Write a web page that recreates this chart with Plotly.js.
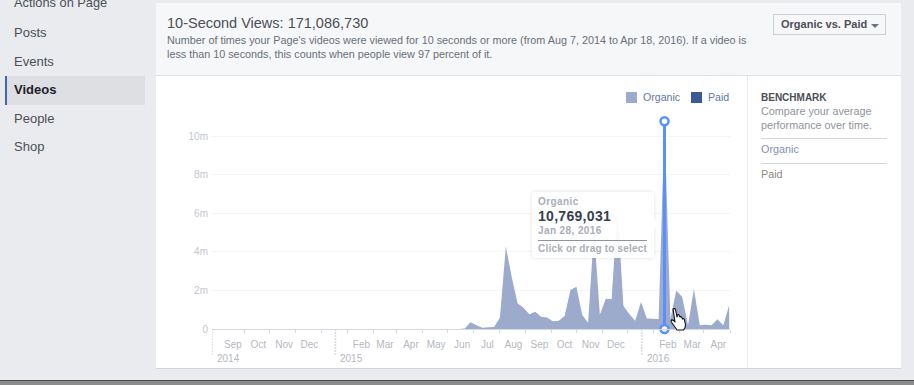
<!DOCTYPE html>
<html><head><meta charset="utf-8">
<script src="https://cdn.plot.ly/plotly-3.0.0.min.js"></script>
<style>
html,body{margin:0;padding:0;width:914px;height:385px;overflow:hidden;background:#e9ebee;font-family:"Liberation Sans",Arial,sans-serif}
.a{position:absolute;white-space:nowrap}
</style></head><body>
<div class="a" style="left:14px;top:-5px;font-size:12.8px;color:#4b4f56">Actions on Page</div>
<div class="a" style="left:14px;top:25px;font-size:13px;color:#4b4f56">Posts</div>
<div class="a" style="left:14px;top:54px;font-size:13px;color:#4b4f56">Events</div>
<div class="a" style="left:5px;top:76px;width:138px;height:29px;background:#dddfe2;border-left:2px solid #4267b2"></div>
<div class="a" style="left:14px;top:82px;font-size:13px;font-weight:bold;color:#1d2129">Videos</div>
<div class="a" style="left:14px;top:111px;font-size:13px;color:#4b4f56">People</div>
<div class="a" style="left:14px;top:139px;font-size:13px;color:#4b4f56">Shop</div>

<div class="a" style="left:156px;top:3px;width:745px;height:365px;background:#fff;border-bottom:1px solid #d3d6db"></div>
<div class="a" style="left:156px;top:3px;width:745px;height:72px;background:#f6f7f9;border-bottom:1px solid #dddfe2"></div>
<div class="a" style="left:167px;top:15px;font-size:14.5px;color:#4b4f56">10-Second Views: 171,086,730</div>
<div class="a" style="left:167px;top:33px;font-size:10.8px;line-height:14px;color:#6a6f78">Number of times your Page's videos were viewed for 10 seconds or more (from Aug 7, 2014 to Apr 18, 2016). If a video is<br>less than 10 seconds, this counts when people view 97 percent of it.</div>
<div class="a" style="left:773px;top:14px;width:111px;height:19px;background:#f6f7f9;border:1px solid #ccd0d5"></div>
<div class="a" style="left:781px;top:18px;font-size:11px;font-weight:bold;color:#4b4f56">Organic vs. Paid</div>
<div class="a" style="left:871px;top:24px;width:0;height:0;border-left:4px solid transparent;border-right:4px solid transparent;border-top:4px solid #6a7180"></div>
<div class="a" style="left:747px;top:76px;width:1px;height:292px;background:#e9ebee"></div>

<div id="chart" class="a" style="left:156px;top:76px;width:591px;height:292px"></div>

<div class="a" style="left:626px;top:92px;width:11px;height:11px;background:#9cabcc"></div>
<div class="a" style="left:643px;top:91px;font-size:10.6px;color:#6478a0">Organic</div>
<div class="a" style="left:691px;top:92px;width:11px;height:11px;background:#3b5998"></div>
<div class="a" style="left:708px;top:91px;font-size:10.6px;color:#6478a0">Paid</div>

<div class="a" style="left:761px;top:92px;font-size:10px;font-weight:bold;color:#4b4f56">BENCHMARK</div>
<div class="a" style="left:761px;top:104px;font-size:10.8px;line-height:14px;color:#90949c">Compare your average<br>performance over time.</div>
<div class="a" style="left:761px;top:138px;width:126px;height:1px;background:#d3d6db"></div>
<div class="a" style="left:761px;top:143px;font-size:10.8px;color:#7f8fb0">Organic</div>
<div class="a" style="left:761px;top:163px;width:126px;height:1px;background:#d3d6db"></div>
<div class="a" style="left:761px;top:168px;font-size:10.8px;color:#908a85">Paid</div>

<div class="a" style="left:532px;top:192px;width:122px;height:66px;background:rgba(255,255,255,.93);border-radius:3px;box-shadow:0 0 4px rgba(0,0,0,.12)"></div>
<div class="a" style="left:651px;top:221px;width:6px;height:6px;background:#fff;transform:rotate(45deg)"></div>
<div class="a" style="left:538px;top:196px;font-size:10px;letter-spacing:.4px;font-weight:bold;color:#a9aeb8">Organic</div>
<div class="a" style="left:538px;top:208px;font-size:14px;font-weight:bold;letter-spacing:.3px;color:#373e4d">10,769,031</div>
<div class="a" style="left:538px;top:225px;font-size:10px;font-weight:bold;letter-spacing:.4px;color:#a9aeb8">Jan 28, 2016</div>
<div class="a" style="left:538px;top:240px;width:109px;height:1px;background:#8d93a5"></div>
<div class="a" style="left:538px;top:243px;font-size:10px;font-weight:bold;letter-spacing:.2px;color:#a9aeb8">Click or drag to select</div>

<svg class="a" style="left:669px;top:307px" width="20" height="25" viewBox="0 0 20 25">
<path d="M4 2 Q5.5 1 6.5 2.5 L8 10 L8.5 8 Q10 7 10.5 9 L11 10 Q12.5 9 13 11 L13.5 12 Q15 11 15.5 13 L16.5 18 Q16.5 21 14.5 23 L8 23 Q6 20 3 16 Q1.5 14 2.5 13 Q4 12.5 6 15 Z" fill="#fff" stroke="#111" stroke-width="1.1" stroke-linejoin="round"/>
</svg>

<div class="a" style="left:0;top:380px;width:914px;height:5px;background:#8c8c8c;border-top:1px solid #4a4a4a;box-sizing:border-box"></div>

<script>
const weekDates = [
"2014-08-07","2014-08-14","2014-08-21","2014-08-28","2014-09-04","2014-09-11","2014-09-18","2014-09-25",
"2014-10-02","2014-10-09","2014-10-16","2014-10-23","2014-10-30","2014-11-06","2014-11-13","2014-11-20","2014-11-27",
"2014-12-04","2014-12-11","2014-12-18","2014-12-25",
"2015-01-01","2015-01-08","2015-01-15","2015-01-22","2015-01-29","2015-02-05","2015-02-12","2015-02-19","2015-02-26",
"2015-03-05","2015-03-12","2015-03-19","2015-03-26","2015-04-02","2015-04-09","2015-04-16","2015-04-23","2015-04-30",
"2015-05-07","2015-05-14","2015-05-21","2015-05-28","2015-06-04","2015-06-11","2015-06-18","2015-06-25",
"2015-07-02","2015-07-09","2015-07-16","2015-07-23","2015-07-30","2015-08-06","2015-08-13","2015-08-20","2015-08-27",
"2015-09-03","2015-09-10","2015-09-17","2015-09-24","2015-10-01","2015-10-08","2015-10-15","2015-10-22","2015-10-29",
"2015-11-05","2015-11-12","2015-11-19","2015-11-26","2015-12-03","2015-12-10","2015-12-17","2015-12-24","2015-12-31",
"2016-01-07","2016-01-14","2016-01-21","2016-01-28","2016-02-04","2016-02-11","2016-02-18","2016-02-25",
"2016-03-03","2016-03-10","2016-03-17","2016-03-24","2016-03-31","2016-04-07","2016-04-14"];
const organic = [
0,0,0,0,0,0,0,0,0,0,0,0,0,0,0,0,0,0,0,0,0,
0,0,0,0,0,0,0,0,0,0,0,0,0,0,0,0,0,0,0,0,0,0,
20000,350000,200000,70000,90000,100000,600000,4270000,2700000,1330000,1100000,760000,900000,640000,590000,400000,430000,670000,2020000,2190000,730000,330000,
5100000,740000,1570000,1540000,6300000,1200000,780000,430000,1400000,550000,530000,520000,10769031,
500000,2000000,1670000,200000,2070000,200000,220000,190000,500000,200000,1230000];
const paid = weekDates.map(() => 0);
const spikeDate = "2016-01-28";
const spikeValues = [0, 10769031];
const yTickValues = [0,2000000,4000000,6000000,8000000,10000000];
const yTickLabels = ["0","2m","4m","6m","8m","10m"];
const monthDates = ["2014-09-01","2014-10-01","2014-11-01","2014-12-01","2015-02-01","2015-03-01","2015-04-01","2015-05-01","2015-06-01","2015-07-01","2015-08-01","2015-09-01","2015-10-01","2015-11-01","2015-12-01","2016-02-01","2016-03-01","2016-04-01"];
const monthLabels = ["Sep","Oct","Nov","Dec","Feb","Mar","Apr","May","Jun","Jul","Aug","Sep","Oct","Nov","Dec","Feb","Mar","Apr"];
const tickDates = ["2014-09-15","2014-10-15","2014-11-15","2014-12-15","2015-01-15","2015-02-15","2015-03-15","2015-04-15","2015-05-15","2015-06-15","2015-07-15","2015-08-15","2015-09-15","2015-10-15","2015-11-15","2015-12-15","2016-01-15","2016-02-15","2016-03-15","2016-04-15"];
const yearStarts = ["2014-08-07","2015-01-01","2016-01-01"];
const yearLabels = ["2014","2015","2016"];

const grey = "#c3c6cd";
const traces = [
 {name:"Organic",x:weekDates,y:organic,type:"scatter",mode:"none",stackgroup:"v",fillcolor:"#9cabcc",showlegend:false,hoverinfo:"skip"},
 {name:"Paid",x:weekDates,y:paid,type:"scatter",mode:"none",stackgroup:"v",fillcolor:"#3b5998",showlegend:false,hoverinfo:"skip"},
 {name:"Selected",x:[spikeDate,spikeDate],y:spikeValues,type:"scatter",mode:"lines+markers",cliponaxis:false,showlegend:false,hoverinfo:"skip",
  line:{color:"#5890ff",width:3},marker:{size:8,color:"#fff",line:{color:"#5890ff",width:2.5}}}
];
const layout = {
 width:591,height:292,margin:{l:56,r:17,t:34,b:39},
 paper_bgcolor:"rgba(0,0,0,0)",plot_bgcolor:"rgba(0,0,0,0)",
 font:{family:'"Liberation Sans",Arial,sans-serif',size:10,color:grey},
 showlegend:false,
 xaxis:{type:"date",range:["2014-08-07","2016-04-15"],fixedrange:true,showgrid:false,zeroline:false,
  showline:true,linecolor:"#d5d9e6",linewidth:1,
  tickmode:"array",tickvals:monthDates,ticktext:monthLabels,ticks:"outside",ticklen:6,tickcolor:"rgba(0,0,0,0)",
  tickfont:{size:10,color:"#b4b8c0"},
  minor:{tickmode:"array",tickvals:tickDates,ticks:"outside",ticklen:3,tickcolor:"#d5d9e6",showgrid:false}},
 yaxis:{range:[0,11350000],fixedrange:true,tickmode:"array",tickvals:yTickValues,ticktext:yTickLabels,
  gridcolor:"#f3f4f6",gridwidth:1,zeroline:false,showline:false,ticks:"outside",ticklen:1,tickcolor:"rgba(0,0,0,0)",tickfont:{size:10,color:grey}},
 shapes:yearStarts.map(d=>({type:"line",xref:"x",yref:"paper",x0:d,x1:d,y0:0,y1:-0.118,line:{color:"#d8dadf",width:1.5,dash:"2px,1px"}})),
 annotations:yearStarts.map((d,i)=>({xref:"x",yref:"paper",x:d,y:-0.1,xshift:3,yanchor:"top",xanchor:"left",showarrow:false,text:yearLabels[i],font:{size:10,color:"#b4b8c0"}}))
};
Plotly.newPlot("chart",traces,layout,{displayModeBar:false,staticPlot:true});
</script>
</body></html>
